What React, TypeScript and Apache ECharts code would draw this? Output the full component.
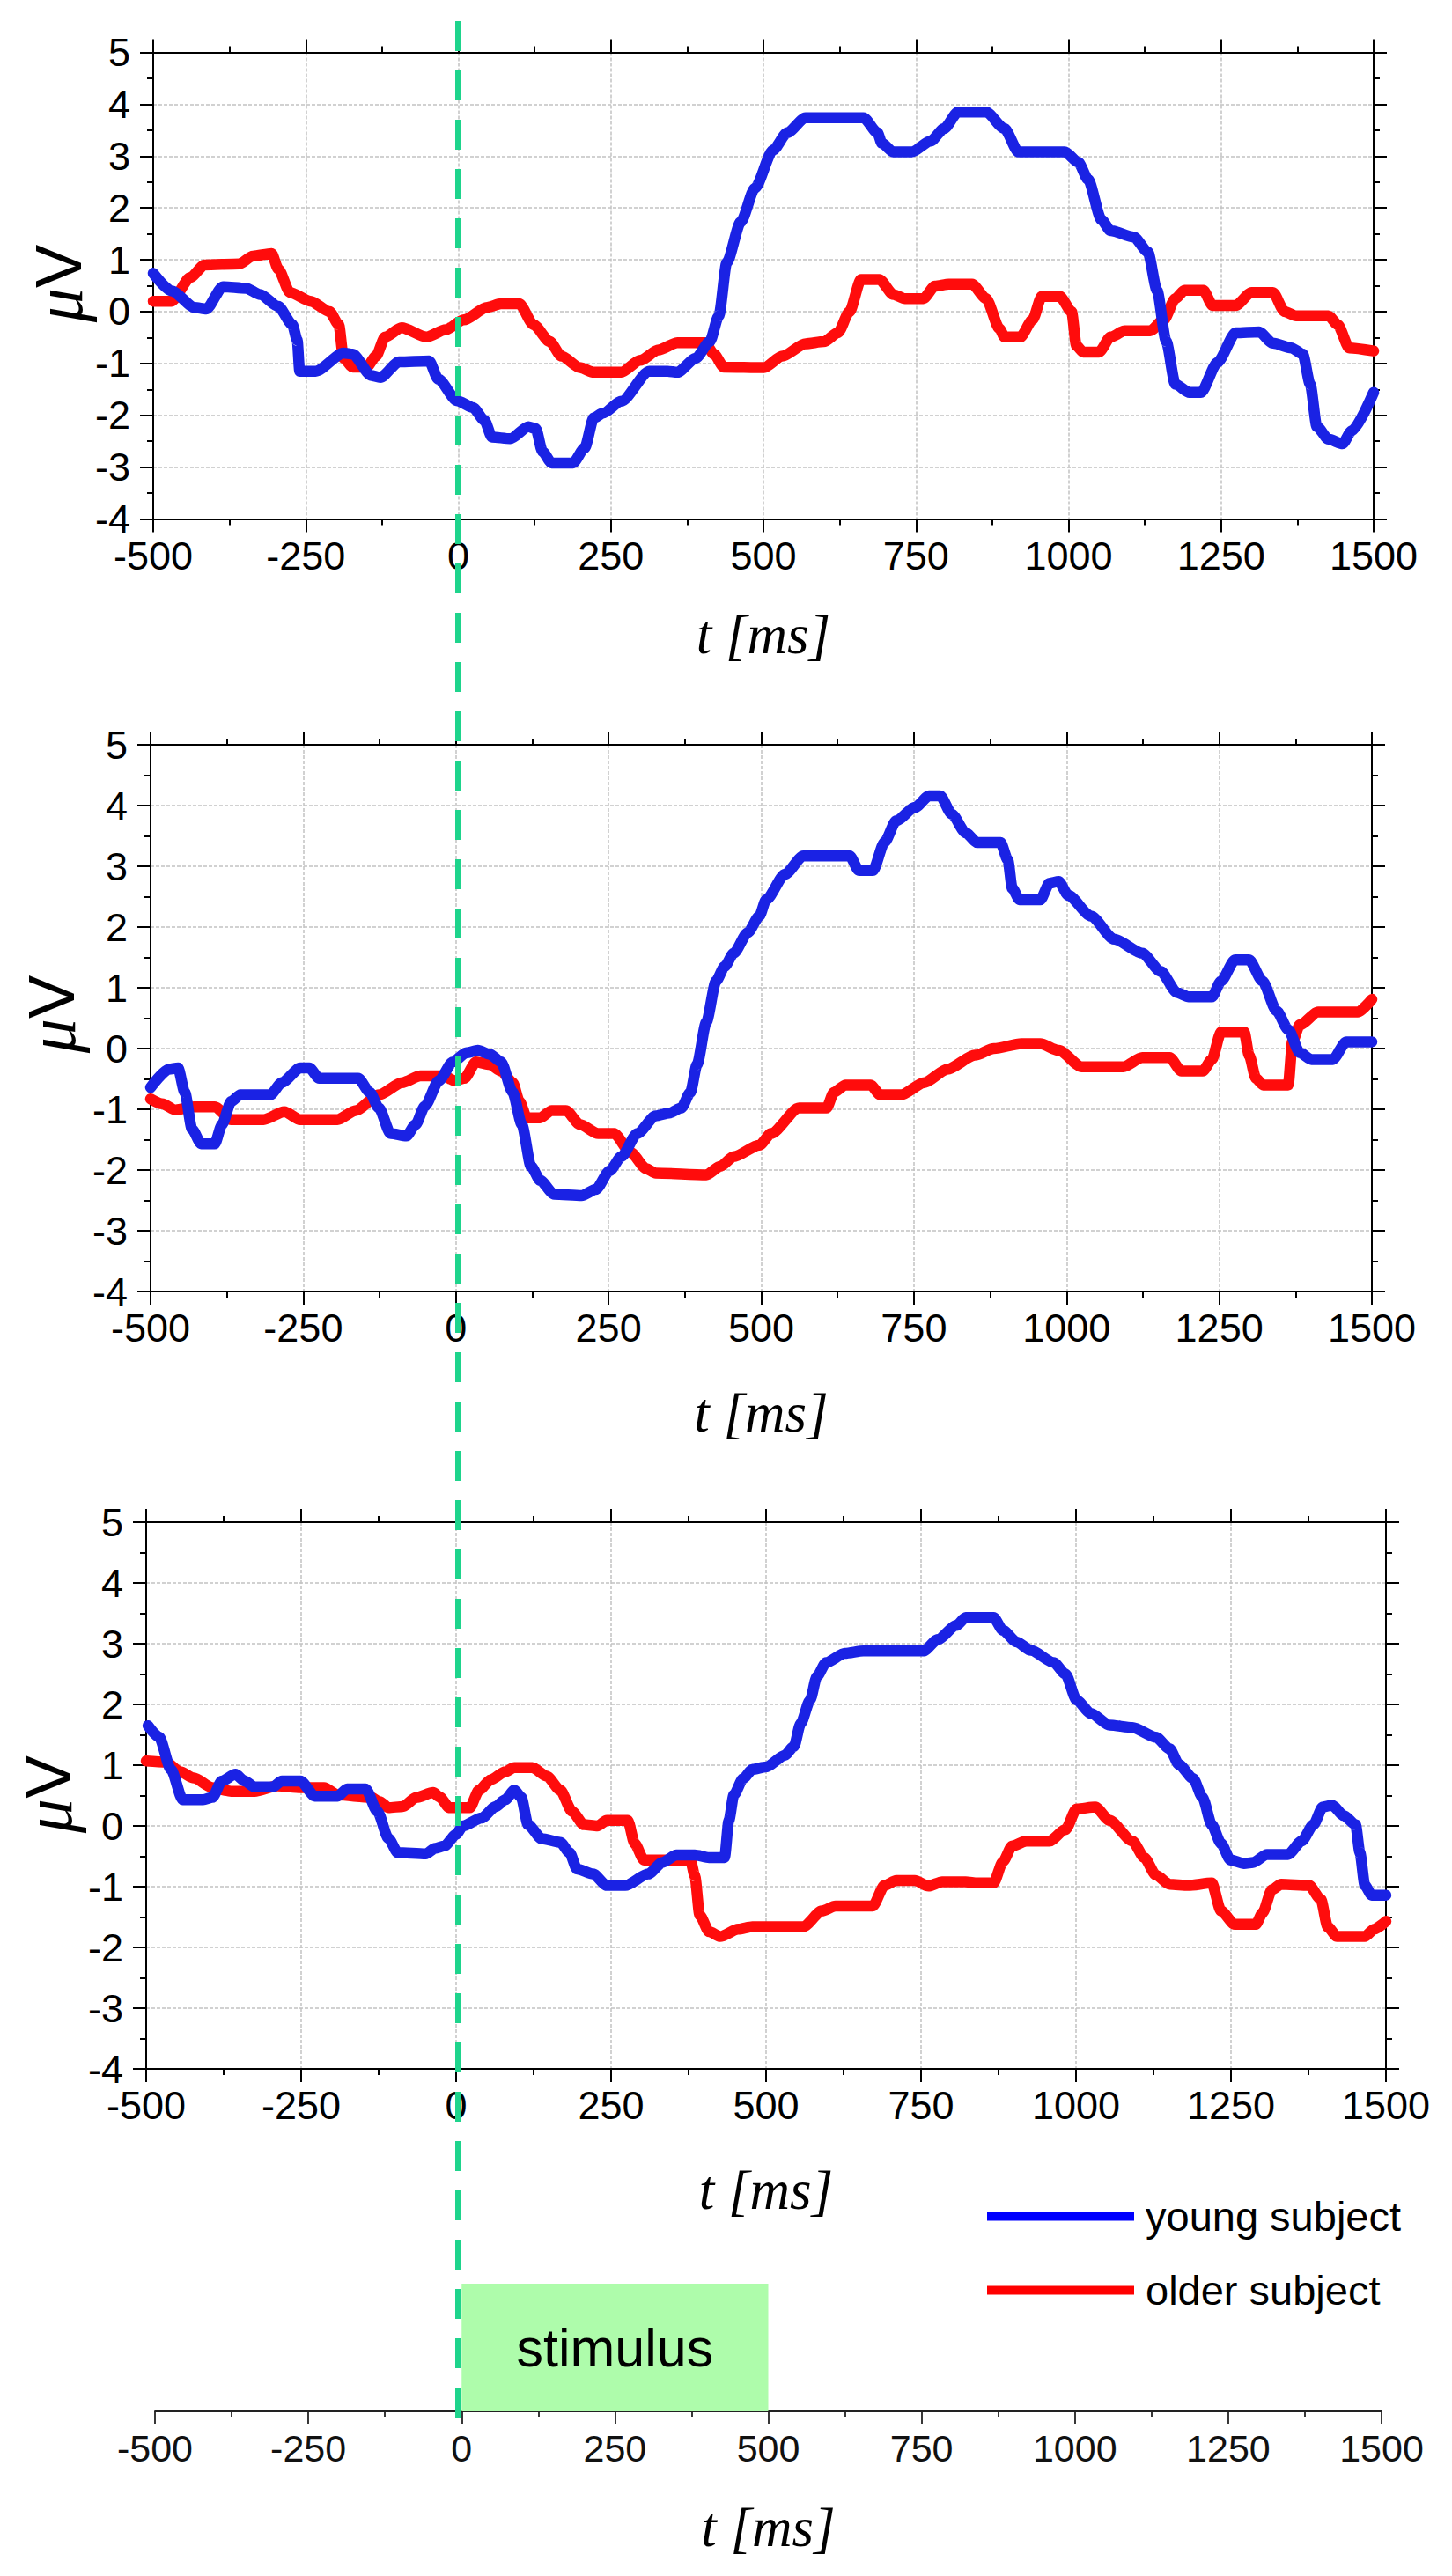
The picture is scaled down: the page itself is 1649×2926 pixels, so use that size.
import React, { useEffect, useRef } from 'react';
import * as echarts from 'echarts';

// ---------- data ----------
const X_MIN = -500;
const X_MAX = 1500;
const X_STEP = 250;
const Y_MIN = -4;
const Y_MAX = 5;
const Y_STEP = 1;
const stimulusOnset = 0;
const stimulusOffset = 500;
const seriesNames = ['young subject', 'older subject'];

const topYoung = [[-500,0.74],[-470,0.4],[-432,0.08],[-413,0.05],[-386,0.48],[-348,0.45],[-325,0.33],[-295,0.1],[-272,-0.25],[-264,-0.55],[-260,-1.15],[-234,-1.15],[-188,-0.8],[-173,-0.82],[-143,-1.23],[-128,-1.27],[-97,-0.97],[-48,-0.95],[-33,-1.3],[-2,-1.72],[24,-1.85],[43,-2.1],[55,-2.42],[85,-2.45],[115,-2.22],[127,-2.26],[138,-2.7],[153,-2.92],[188,-2.92],[207,-2.63],[222,-2.05],[237,-1.96],[267,-1.73],[313,-1.15],[343,-1.15],[359,-1.17],[389,-0.9],[412,-0.58],[427,-0.08],[440,0.95],[463,1.73],[486,2.38],[516,3.12],[539,3.45],[569,3.74],[664,3.74],[687,3.45],[694,3.25],[713,3.08],[743,3.08],[774,3.29],[796,3.53],[819,3.85],[865,3.85],[895,3.53],[918,3.08],[994,3.08],[1016,2.88],[1032,2.55],[1054,1.77],[1069,1.56],[1107,1.44],[1130,1.15],[1145,0.41],[1160,-0.57],[1175,-1.4],[1198,-1.56],[1217,-1.56],[1244,-0.98],[1274,-0.41],[1312,-0.39],[1335,-0.61],[1365,-0.7],[1384,-0.82],[1396,-1.4],[1407,-2.22],[1426,-2.46],[1449,-2.55],[1464,-2.3],[1500,-1.56]];

const topOlder = [[-500,0.2],[-470,0.2],[-439,0.66],[-416,0.9],[-359,0.92],[-337,1.07],[-306,1.12],[-295,0.82],[-276,0.37],[-242,0.2],[-211,0],[-196,-0.25],[-188,-0.9],[-173,-1.07],[-150,-1.07],[-135,-0.86],[-120,-0.49],[-93,-0.31],[-52,-0.49],[-21,-0.35],[9,-0.16],[47,0.08],[70,0.15],[100,0.15],[123,-0.25],[150,-0.58],[169,-0.86],[199,-1.08],[222,-1.17],[267,-1.17],[298,-0.94],[328,-0.74],[359,-0.6],[404,-0.6],[419,-0.82],[435,-1.07],[501,-1.08],[531,-0.86],[569,-0.62],[599,-0.58],[622,-0.41],[641,0],[660,0.62],[690,0.62],[713,0.33],[732,0.25],[762,0.25],[781,0.49],[804,0.53],[842,0.53],[865,0.25],[887,-0.33],[895,-0.49],[921,-0.49],[941,-0.16],[956,0.29],[986,0.29],[1005,0],[1013,-0.66],[1024,-0.78],[1050,-0.78],[1069,-0.49],[1092,-0.37],[1134,-0.37],[1156,-0.16],[1175,0.25],[1190,0.41],[1221,0.41],[1236,0.12],[1274,0.12],[1300,0.37],[1335,0.37],[1354,0],[1373,-0.08],[1426,-0.08],[1441,-0.25],[1460,-0.7],[1500,-0.76]];

const midYoung = [[-500,-0.64],[-470,-0.34],[-455,-0.32],[-444,-0.72],[-432,-1.33],[-417,-1.57],[-395,-1.57],[-383,-1.25],[-368,-0.87],[-353,-0.76],[-304,-0.76],[-285,-0.56],[-255,-0.32],[-240,-0.32],[-224,-0.49],[-160,-0.49],[-141,-0.72],[-126,-0.98],[-107,-1.4],[-81,-1.44],[-66,-1.25],[-51,-0.95],[-28,-0.53],[-5,-0.22],[17,-0.07],[36,-0.03],[55,-0.09],[74,-0.22],[93,-0.72],[108,-1.25],[123,-1.94],[138,-2.17],[161,-2.4],[206,-2.42],[229,-2.32],[252,-2.01],[271,-1.78],[297,-1.4],[327,-1.11],[350,-1.06],[369,-0.98],[384,-0.72],[395,-0.26],[410,0.43],[426,1.11],[440,1.35],[455,1.57],[478,1.91],[497,2.18],[508,2.45],[539,2.87],[569,3.17],[645,3.17],[660,2.93],[683,2.93],[702,3.4],[721,3.75],[752,3.97],[775,4.16],[793,4.16],[812,3.86],[835,3.55],[854,3.39],[892,3.39],[904,3.1],[911,2.64],[923,2.45],[957,2.45],[972,2.72],[987,2.75],[1003,2.52],[1040,2.18],[1078,1.8],[1124,1.57],[1154,1.27],[1181,0.92],[1200,0.85],[1238,0.85],[1253,1.11],[1276,1.46],[1299,1.46],[1321,1.11],[1344,0.62],[1363,0.31],[1382,-0.07],[1401,-0.18],[1436,-0.18],[1458,0.11],[1500,0.11]];

const midOlder = [[-500,-0.83],[-481,-0.91],[-459,-1.01],[-429,-0.96],[-395,-0.96],[-368,-1.17],[-315,-1.17],[-281,-1.04],[-255,-1.17],[-194,-1.17],[-164,-1.02],[-126,-0.76],[-88,-0.56],[-58,-0.45],[-20,-0.45],[-2,-0.53],[14,-0.49],[33,-0.22],[55,-0.26],[74,-0.37],[93,-0.56],[104,-0.87],[116,-1.14],[138,-1.14],[157,-1.02],[180,-1.02],[203,-1.25],[233,-1.4],[259,-1.4],[286,-1.71],[312,-1.98],[327,-2.05],[410,-2.08],[433,-1.94],[455,-1.78],[497,-1.59],[516,-1.4],[562,-0.98],[607,-0.98],[619,-0.72],[638,-0.6],[679,-0.6],[695,-0.76],[729,-0.76],[767,-0.56],[805,-0.34],[850,-0.11],[881,0],[926,0.08],[957,0.08],[987,-0.03],[1025,-0.3],[1093,-0.3],[1124,-0.15],[1169,-0.15],[1188,-0.37],[1223,-0.37],[1238,-0.18],[1253,0.27],[1291,0.27],[1299,-0.11],[1310,-0.49],[1322,-0.6],[1363,-0.6],[1370,0.12],[1382,0.39],[1412,0.6],[1477,0.6],[1500,0.81]];

const botYoung = [[-497,1.65],[-479,1.46],[-460,0.93],[-441,0.43],[-408,0.43],[-393,0.47],[-378,0.74],[-356,0.85],[-341,0.74],[-325,0.64],[-296,0.64],[-281,0.74],[-251,0.74],[-228,0.49],[-191,0.49],[-176,0.61],[-146,0.61],[-127,0.24],[-109,-0.21],[-94,-0.44],[-49,-0.46],[-34,-0.37],[-19,-0.33],[0,-0.14],[11,0],[41,0.13],[64,0.32],[79,0.43],[94,0.59],[105,0.47],[116,0.02],[138,-0.21],[168,-0.27],[183,-0.44],[195,-0.71],[221,-0.79],[243,-0.98],[273,-0.98],[310,-0.79],[333,-0.6],[355,-0.48],[385,-0.48],[408,-0.52],[433,-0.52],[440,0.09],[448,0.51],[463,0.78],[478,0.93],[500,0.97],[530,1.16],[545,1.31],[556,1.69],[571,2.07],[582,2.46],[597,2.69],[627,2.84],[657,2.88],[754,2.88],[777,3.07],[807,3.3],[822,3.43],[867,3.43],[882,3.22],[904,3.03],[927,2.89],[964,2.69],[983,2.5],[1001,2.07],[1024,1.85],[1054,1.66],[1091,1.62],[1129,1.46],[1151,1.27],[1166,1.01],[1189,0.78],[1204,0.47],[1219,0.02],[1234,-0.29],[1249,-0.56],[1271,-0.62],[1286,-0.6],[1308,-0.47],[1342,-0.47],[1364,-0.25],[1383,0.02],[1398,0.31],[1413,0.34],[1432,0.17],[1451,0.02],[1458,-0.44],[1466,-0.98],[1477,-1.14],[1500,-1.14]];

const botOlder = [[-500,1.07],[-468,1.05],[-445,0.89],[-423,0.79],[-393,0.63],[-363,0.57],[-325,0.57],[-288,0.66],[-251,0.63],[-213,0.63],[-191,0.51],[-138,0.47],[-123,0.4],[-109,0.3],[-86,0.32],[-64,0.47],[-37,0.55],[-26,0.47],[-11,0.3],[22,0.3],[37,0.59],[56,0.76],[79,0.89],[94,0.96],[123,0.96],[146,0.82],[168,0.59],[187,0.24],[206,0.02],[228,0],[243,0.09],[277,0.09],[288,-0.29],[303,-0.56],[378,-0.56],[385,-0.82],[393,-1.47],[408,-1.74],[426,-1.82],[455,-1.7],[478,-1.66],[560,-1.66],[590,-1.4],[612,-1.32],[672,-1.32],[691,-0.98],[710,-0.9],[740,-0.9],[762,-0.99],[784,-0.92],[822,-0.92],[841,-0.94],[867,-0.94],[882,-0.59],[897,-0.33],[920,-0.25],[957,-0.25],[983,-0.06],[1001,0.28],[1031,0.31],[1054,0.09],[1091,-0.25],[1110,-0.52],[1129,-0.81],[1151,-0.96],[1181,-0.98],[1219,-0.94],[1234,-1.4],[1256,-1.62],[1290,-1.62],[1301,-1.43],[1316,-1.05],[1331,-0.96],[1376,-0.98],[1395,-1.21],[1406,-1.66],[1421,-1.82],[1466,-1.82],[1481,-1.7],[1500,-1.57]];

const panels = [
  { young: topYoung, older: topOlder },
  { young: midYoung, older: midOlder },
  { young: botYoung, older: botOlder },
];

// ---------- layout & style ----------
const W = 1649;
const H = 2926;
const gridBoxes = [
  { left: 174, top: 59.5, width: 1386, height: 530, yTitle: [66, 322], xTitleY: 721 },
  { left: 171, top: 846, width: 1387, height: 621, yTitle: [58, 1152], xTitleY: 1605 },
  { left: 166, top: 1729, width: 1408, height: 621, yTitle: [54, 2038], xTitleY: 2488 },
];
const stimBox = { left: 176, top: 2594, width: 1393, height: 145, xTitleY: 2871 };

const BLUE = '#1a22e4';
const RED = '#ff0c0c';
const GREEN = '#1ed48c';
const SANS = 'Liberation Sans, Arial, sans-serif';
const SERIF = 'Liberation Serif, Times New Roman, serif';
const plainNum = (v: number) => String(v);

const tickFont = { fontFamily: SANS, fontSize: 45, color: '#000', formatter: plainNum };
const gridLine = { show: true, lineStyle: { color: '#c2c2c2', width: 1.5, type: [4, 2] } };
const axisLine = { show: true, onZero: false, lineStyle: { color: '#000', width: 2 } };
const axisTick = { show: true, length: 15, lineStyle: { color: '#000', width: 2 } };
const minorTick = { show: true, splitNumber: 2, length: 7, lineStyle: { color: '#000', width: 2 } };

function buildOption() {
  const grid: any[] = [];
  const xAxis: any[] = [];
  const yAxis: any[] = [];
  const series: any[] = [];
  const graphic: any[] = [];

  gridBoxes.forEach((g, i) => {
    grid.push({ left: g.left, top: g.top, width: g.width, height: g.height, containLabel: false, outerBoundsMode: 'none' });
    const xBase = { type: 'value', gridIndex: i, min: X_MIN, max: X_MAX, interval: X_STEP, axisLine, axisTick, minorTick };
    xAxis.push({ ...xBase, position: 'bottom', axisLabel: { ...tickFont, margin: 19 }, splitLine: gridLine });
    xAxis.push({ ...xBase, position: 'top', axisLabel: { show: false }, splitLine: { show: false } });
    const yBase = { type: 'value', gridIndex: i, min: Y_MIN, max: Y_MAX, interval: Y_STEP, axisLine, axisTick, minorTick };
    yAxis.push({ ...yBase, position: 'left', axisLabel: { ...tickFont, margin: 26 }, splitLine: gridLine });
    yAxis.push({ ...yBase, position: 'right', axisLabel: { show: false }, splitLine: { show: false } });

    const p = panels[i];
    const lineCommon = {
      type: 'line', xAxisIndex: 2 * i, yAxisIndex: 2 * i, symbol: 'none', showSymbol: false, silent: true, clip: true,
      smooth: 0.25, smoothMonotone: 'x',
    };
    series.push({ ...lineCommon, name: seriesNames[1], data: p.older, color: RED, lineStyle: { color: RED, width: 12.5, cap: 'round', join: 'round' }, z: 2 });
    series.push({ ...lineCommon, name: seriesNames[0], data: p.young, color: BLUE, lineStyle: { color: BLUE, width: 12.5, cap: 'round', join: 'round' }, z: 3 });

    graphic.push({
      type: 'text', x: g.yTitle[0], y: g.yTitle[1], rotation: Math.PI / 2, silent: true,
      style: {
        text: '{m|μ}{v|V}', align: 'center', verticalAlign: 'middle', fill: '#000',
        rich: {
          m: { fontFamily: SERIF, fontStyle: 'italic', fontSize: 78, fill: '#000' },
          v: { fontFamily: SANS, fontSize: 74, fill: '#000' },
        },
      },
    });
    graphic.push({
      type: 'text', x: g.left + g.width / 2, y: g.xTitleY, silent: true,
      style: { text: 't [ms]', align: 'center', verticalAlign: 'middle', fill: '#000', fontFamily: SERIF, fontStyle: 'italic', fontSize: 63 },
    });
  });

  // stimulus timeline
  grid.push({ left: stimBox.left, top: stimBox.top, width: stimBox.width, height: stimBox.height, containLabel: false, outerBoundsMode: 'none' });
  xAxis.push({
    type: 'value', gridIndex: 3, min: X_MIN, max: X_MAX, interval: X_STEP, position: 'bottom',
    axisLine: { show: true, onZero: false, lineStyle: { color: '#222', width: 1.8 } },
    axisTick: { show: true, length: 14, lineStyle: { color: '#222', width: 1.8 } },
    minorTick: { show: true, splitNumber: 2, length: 6, lineStyle: { color: '#222', width: 1.8 } },
    axisLabel: { fontFamily: SANS, fontSize: 43, color: '#111', margin: 20, formatter: plainNum },
    splitLine: { show: false },
  });
  yAxis.push({ type: 'value', gridIndex: 3, min: 0, max: 1, show: false });
  series.push({
    type: 'line', name: 'stimulus', xAxisIndex: 6, yAxisIndex: 6, data: [[stimulusOnset, 0]], symbol: 'none', showSymbol: false, silent: true,
    lineStyle: { opacity: 0 },
    markArea: {
      silent: true,
      itemStyle: { color: '#aefcab', opacity: 1, borderWidth: 0 },
      label: { show: true, position: 'inside', formatter: '{b}', color: '#000', fontFamily: SANS, fontSize: 61 },
      data: [[{ name: 'stimulus', xAxis: stimulusOnset, yAxis: 0 }, { xAxis: stimulusOffset, yAxis: 1 }]],
    },
  });
  graphic.push({
    type: 'text', x: stimBox.left + stimBox.width / 2, y: stimBox.xTitleY, silent: true,
    style: { text: 't [ms]', align: 'center', verticalAlign: 'middle', fill: '#000', fontFamily: SERIF, fontStyle: 'italic', fontSize: 63 },
  });

  // stimulus onset marker across all panels
  graphic.push({
    type: 'line', z: 100, silent: true,
    shape: { x1: 520, y1: 24, x2: 520, y2: 2764 },
    style: { stroke: GREEN, lineWidth: 6, lineDash: [34, 22] },
  });

  return {
    animation: false,
    backgroundColor: '#ffffff',
    grid,
    xAxis,
    yAxis,
    series,
    graphic,
    legend: {
      orient: 'vertical', left: 1121, top: 2494, padding: 0, itemGap: 37,
      itemWidth: 167, itemHeight: 10, icon: 'rect', selectedMode: false,
      textStyle: { fontFamily: SANS, fontSize: 47, color: '#000', lineHeight: 47, padding: [0, 0, 0, 8] },
      data: [
        { name: seriesNames[0], itemStyle: { color: '#0000ff' } },
        { name: seriesNames[1], itemStyle: { color: '#ff0000' } },
      ],
    },
  };
}

export default function App() {
  const ref = useRef<HTMLDivElement>(null);
  useEffect(() => {
    document.body.style.margin = '0';
    document.body.style.overflow = 'hidden';
    if (!ref.current) return;
    const chart = echarts.init(ref.current, null, { renderer: 'svg' });
    chart.setOption(buildOption() as any);
    return () => chart.dispose();
  }, []);
  return <div ref={ref} style={{ width: W, height: H, background: '#fff' }} />;
}
